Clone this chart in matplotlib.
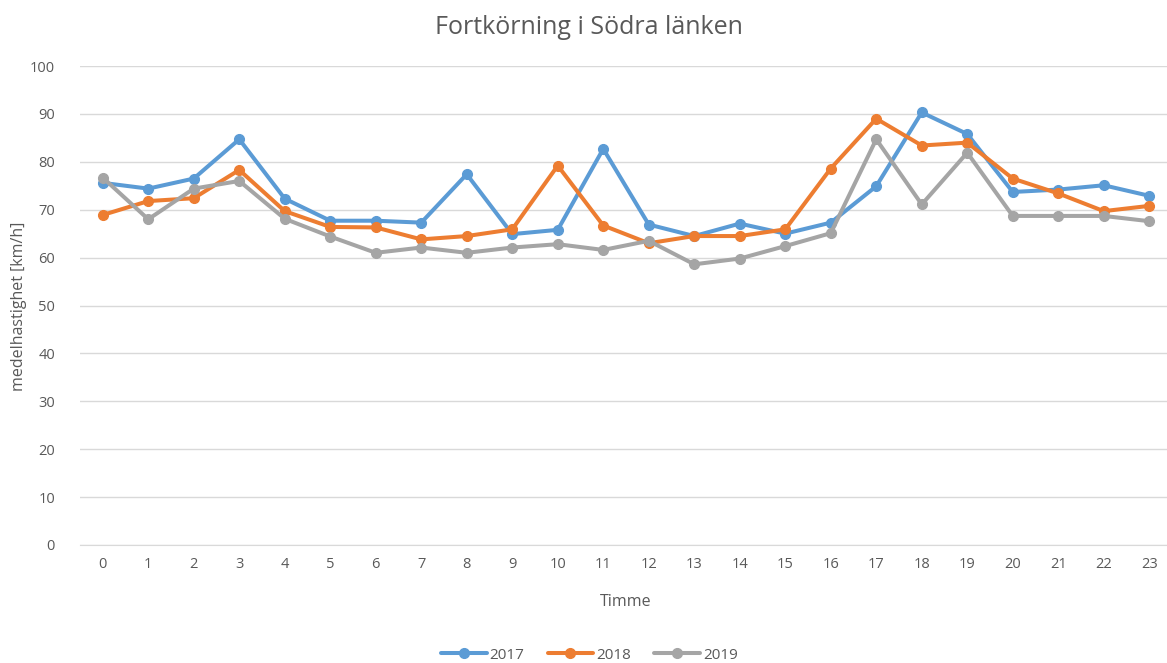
import matplotlib
matplotlib.use("Agg")
import matplotlib.pyplot as plt

# Data
timmar = list(range(24))
v2017 = [75.6, 74.4, 76.5, 84.7, 72.3, 67.7, 67.7, 67.3, 77.4, 64.9, 65.8, 82.7,
         66.9, 64.5, 67.1, 65.0, 67.3, 74.9, 90.3, 85.8, 73.7, 74.2, 75.1, 72.9]
v2018 = [68.9, 71.8, 72.4, 78.3, 69.7, 66.4, 66.3, 63.8, 64.5, 65.9, 79.2, 66.7,
         63.0, 64.5, 64.5, 65.9, 78.6, 89.0, 83.4, 84.0, 76.5, 73.4, 69.7, 70.8]
v2019 = [76.7, 68.0, 74.4, 76.0, 68.1, 64.4, 61.0, 62.1, 61.0, 62.1, 62.8, 61.6,
         63.5, 58.6, 59.8, 62.4, 65.1, 84.7, 71.1, 81.9, 68.7, 68.7, 68.7, 67.6]
serier = [("2017", v2017, "#5B9BD5"), ("2018", v2018, "#ED7D31"), ("2019", v2019, "#A5A5A5")]

plt.rcParams['font.family'] = ['Open Sans', 'DejaVu Sans']
txt = "#595959"

fig = plt.figure(figsize=(11.67, 6.63), dpi=100)
ax = fig.add_axes([80 / 1167, 118 / 663, 1092 / 1167, 479 / 663])

for namn, vals, col in serier:
    ax.plot(timmar, vals, color=col, lw=2.9, marker="o", ms=7, label=namn,
            solid_joinstyle="round", solid_capstyle="round")

ax.set_xlim(-0.5, 23.5)
ax.set_ylim(0, 100)
ax.set_yticks(range(0, 101, 10))
ax.set_xticks(timmar)
ax.grid(axis="y", color="#D9D9D9", lw=1)
ax.set_axisbelow(True)
for s in ["top", "right", "left"]:
    ax.spines[s].set_visible(False)
ax.spines["bottom"].set_color("#D9D9D9")
ax.tick_params(axis="both", length=0, colors=txt, labelsize=10.5)
ax.tick_params(axis="x", pad=9)
ax.tick_params(axis="y", pad=18)

fig.text(0.505, 0.958, "Fortkörning i Södra länken", ha="center", va="center",
         fontsize=18, color=txt)
fig.text(0.016, 0.538, "medelhastighet [km/h]", rotation=90, ha="center", va="center",
         fontsize=11.5, color=txt)
fig.text(0.536, 0.092, "Timme", ha="center", va="center", fontsize=11.5, color=txt)

fig.legend(loc="center", bbox_to_anchor=(0.505, 0.012), ncol=3, frameon=False,
           fontsize=11, labelcolor=txt, handlelength=3, columnspacing=1.5,
           handletextpad=0.2)

fig.savefig("out.png", dpi=100)
